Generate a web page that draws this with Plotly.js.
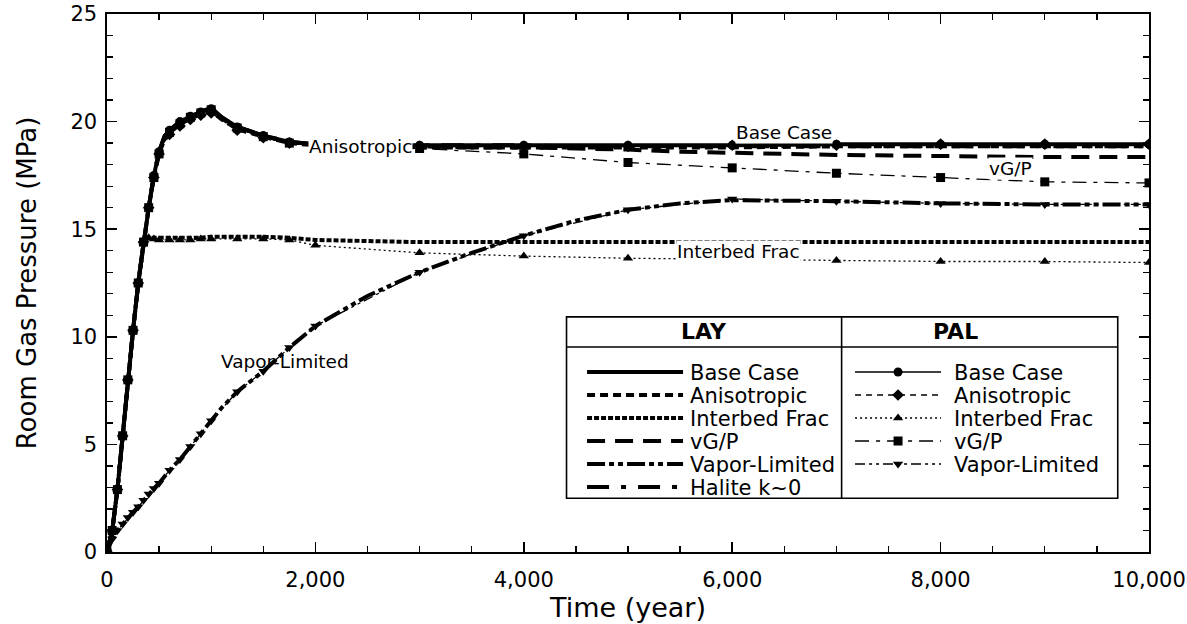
<!DOCTYPE html>
<html>
<head>
<meta charset="utf-8">
<script src="https://cdn.plot.ly/plotly-3.0.1.min.js"></script>
<style>
html,body{margin:0;padding:0;background:#fff;}
#chart{width:1187px;height:624px;}
</style>
</head>
<body>
<div id="chart"></div>
<script>
// ---- data (time in years, pressure in MPa) ----
const yearsLAY = [0,50,100,150,200,250,300,350,400,450,500,550,600,700,800,900,1000,1100,1250,1500,1750,2000,2500,3000,3500,4000,4500,5000,5500,6000,7000,8000,9000,10000];
const layBase     = [0,1.0,2.9,5.4,8.0,10.3,12.5,14.4,16.0,17.5,18.6,19.3,19.6,20.0,20.25,20.45,20.65,20.2,19.75,19.35,19.05,18.95,18.9,18.9,18.9,18.9,18.9,18.9,18.9,18.9,18.95,18.95,18.95,18.95];
const layAniso    = [0,1.0,2.9,5.4,8.0,10.3,12.5,14.4,16.0,17.4,18.5,19.2,19.5,19.9,20.15,20.35,20.5,20.1,19.65,19.3,19.0,18.9,18.85,18.8,18.8,18.8,18.8,18.8,18.8,18.8,18.85,18.85,18.85,18.85];
const layInterbed = [0,1.0,2.9,5.4,8.0,10.3,12.5,14.4,14.6,14.6,14.6,14.6,14.6,14.6,14.6,14.6,14.65,14.65,14.65,14.65,14.6,14.5,14.45,14.4,14.4,14.4,14.4,14.4,14.4,14.4,14.4,14.4,14.4,14.4];
const layVGP      = [0,1.0,2.9,5.4,8.0,10.3,12.5,14.4,16.0,17.5,18.6,19.3,19.6,20.0,20.25,20.45,20.6,20.2,19.75,19.35,19.05,18.95,18.9,18.85,18.8,18.8,18.75,18.7,18.6,18.55,18.45,18.4,18.35,18.35];
const layVapor    = [0,0.6,1.0,1.3,1.6,1.85,2.1,2.4,2.7,2.95,3.2,3.5,3.8,4.3,4.9,5.5,6.1,6.7,7.45,8.4,9.5,10.5,11.9,13.0,13.9,14.7,15.4,15.9,16.2,16.35,16.3,16.2,16.15,16.15];
const layHalite   = [0,1.0,2.9,5.4,8.0,10.3,12.5,14.4,16.0,17.5,18.6,19.3,19.6,20.0,20.25,20.45,20.6,20.2,19.75,19.35,19.05,18.95,18.9,18.9,18.9,18.9,18.85,18.85,18.85,18.85,18.85,18.85,18.85,18.85];

const yearsPAL = [0,50,100,150,200,250,300,350,400,450,500,600,700,800,900,1000,1250,1500,1750,2000,3000,4000,5000,6000,7000,8000,9000,10000];
const palBase     = [0,1.0,2.9,5.4,8.0,10.3,12.5,14.4,16.0,17.5,18.6,19.6,20.0,20.25,20.45,20.6,19.75,19.35,19.05,18.95,18.9,18.9,18.9,18.9,18.95,18.95,18.95,18.95];
const palAniso    = [0,1.0,2.9,5.4,8.0,10.3,12.5,14.4,16.0,17.4,18.5,19.4,19.8,20.1,20.3,20.4,19.6,19.25,19.0,18.9,18.85,18.85,18.85,18.9,18.9,18.95,18.95,18.95];
const palInterbed = [0,1.0,2.9,5.4,8.0,10.3,12.5,14.4,14.6,14.55,14.5,14.5,14.5,14.5,14.55,14.55,14.55,14.55,14.5,14.25,13.9,13.75,13.65,13.6,13.55,13.5,13.5,13.45];
const palVGP      = [0,1.0,2.9,5.4,8.0,10.3,12.5,14.4,16.0,17.4,18.5,19.5,19.9,20.2,20.4,20.55,19.7,19.3,19.0,18.9,18.75,18.5,18.1,17.85,17.6,17.4,17.2,17.15];
const palVapor    = [0,0.6,1.0,1.3,1.6,1.85,2.1,2.4,2.7,2.95,3.2,3.8,4.3,4.9,5.5,6.1,7.45,8.4,9.5,10.5,13.0,14.7,15.9,16.4,16.3,16.2,16.15,16.15];

const caseNames = ['Base Case','Anisotropic','Interbed Frac','vG/P','Vapor-Limited','Halite k~0'];
const xTickVals = [0,2000,4000,6000,8000,10000];
const yTickVals = [0,5,10,15,20,25];

// ---- chart ----
const FONT = '"DejaVu Sans", Arial, sans-serif';
const layStyles = [
  {y: layBase, dash: 'solid'},
  {y: layAniso, dash: '8px,5px'},
  {y: layInterbed, dash: '5px,2px'},
  {y: layVGP, dash: '18px,10px'},
  {y: layVapor, dash: '18px,4px,5px,4px,5px,4px'},
  {y: layHalite, dash: '22px,12px,5px,12px'}
];
const palStyles = [
  {y: palBase, dash: 'solid', sym: 'circle'},
  {y: palAniso, dash: '6px,5px', sym: 'diamond'},
  {y: palInterbed, dash: '2px,3px', sym: 'triangle-up'},
  {y: palVGP, dash: '14px,7px,4px,7px', sym: 'square'},
  {y: palVapor, dash: '10px,4px,3px,4px,3px,4px', sym: 'triangle-down'}
];

const traces = [];
layStyles.forEach((s, i) => {
  traces.push({
    x: yearsLAY, y: s.y, type: 'scatter', mode: 'lines', name: caseNames[i],
    legend: 'legend', line: {color: '#000', width: 4, dash: s.dash}
  });
});
palStyles.forEach((s, i) => {
  traces.push({
    x: yearsPAL, y: s.y, type: 'scatter', mode: 'lines+markers', name: caseNames[i],
    legend: 'legend2', line: {color: '#000', width: 1.3, dash: s.dash},
    marker: {symbol: s.sym, size: 9, color: '#000'}
  });
});

// legend frame in paper coordinates (plot area: 1042 x 538 px)
const bx0 = 0.441, bx1 = 0.970, bdiv = 0.705, by0 = 0.100, by1 = 0.437, bhead = 0.381;

const layout = {
  width: 1187, height: 624,
  margin: {l: 107, r: 38, t: 14, b: 72},
  paper_bgcolor: '#fff', plot_bgcolor: '#fff',
  font: {family: FONT, color: '#000', size: 20},
  xaxis: {
    range: [0, 10000], tickvals: xTickVals, tickformat: ',d',
    showline: true, linecolor: '#000', linewidth: 1.6, mirror: 'allticks',
    ticks: 'inside', ticklen: 10, tickwidth: 1.5, tickcolor: '#000',
    minor: {dtick: 500, ticks: 'inside', ticklen: 6, tickwidth: 1.3, tickcolor: '#000', showgrid: false},
    showgrid: false, zeroline: false, ticklabelstandoff: 8,
    tickfont: {size: 21, family: FONT},
    title: {text: 'Time (year)', font: {size: 27, family: FONT}, standoff: 2}
  },
  yaxis: {
    range: [0, 25], tickvals: yTickVals,
    showline: true, linecolor: '#000', linewidth: 1.6, mirror: 'allticks',
    ticks: 'inside', ticklen: 10, tickwidth: 1.5, tickcolor: '#000',
    minor: {dtick: 1, ticks: 'inside', ticklen: 6, tickwidth: 1.3, tickcolor: '#000', showgrid: false},
    showgrid: false, zeroline: false, ticklabelstandoff: 4,
    tickfont: {size: 21, family: FONT},
    title: {text: 'Room Gas Pressure (MPa)', font: {size: 26, family: FONT}, standoff: 26}
  },
  showlegend: true,
  legend: {
    x: 0.4559, y: 0.372, xanchor: 'left', yanchor: 'top',
    bgcolor: 'rgba(0,0,0,0)', borderwidth: 0, itemwidth: 98,
    font: {size: 21, family: FONT}, tracegroupgap: 0, itemclick: false
  },
  legend2: {
    x: 0.7131, y: 0.372, xanchor: 'left', yanchor: 'top',
    bgcolor: 'rgba(0,0,0,0)', borderwidth: 0, itemwidth: 94,
    font: {size: 21, family: FONT}, tracegroupgap: 0, itemclick: false
  },
  shapes: [
    {type: 'rect', xref: 'paper', yref: 'paper', x0: bx0, x1: bx1, y0: by0, y1: by1,
     line: {color: '#000', width: 1.6}, fillcolor: '#fff', layer: 'below'},
    {type: 'line', xref: 'paper', yref: 'paper', x0: bx0, x1: bx1, y0: bhead, y1: bhead,
     line: {color: '#000', width: 1.6}},
    {type: 'line', xref: 'paper', yref: 'paper', x0: bdiv, x1: bdiv, y0: by0, y1: by1,
     line: {color: '#000', width: 1.6}}
  ],
  annotations: [
    {xref: 'paper', yref: 'paper', x: (bx0 + bdiv) / 2, y: (by1 + bhead) / 2, text: '<b>LAY</b>',
     showarrow: false, font: {size: 22, family: FONT}},
    {xref: 'paper', yref: 'paper', x: (bdiv + bx1) / 2, y: (by1 + bhead) / 2, text: '<b>PAL</b>',
     showarrow: false, font: {size: 22, family: FONT}},
    {x: 2428, y: 18.85, text: 'Anisotropic', showarrow: false, bgcolor: '#fff', borderpad: 0, font: {size: 18.5, family: FONT}},
    {x: 6497, y: 19.5, text: 'Base Case', showarrow: false, bgcolor: '#fff', borderpad: 0, font: {size: 18.5, family: FONT}},
    {x: 8666, y: 17.8, text: 'vG/P', showarrow: false, bgcolor: '#fff', borderpad: 0, font: {size: 18.5, family: FONT}},
    {x: 6056, y: 13.98, text: 'Interbed Frac', showarrow: false, bgcolor: '#fff', borderpad: 0, font: {size: 18.5, family: FONT}},
    {x: 1708, y: 8.83, text: 'Vapor-Limited', showarrow: false, font: {size: 18.5, family: FONT}}
  ]
};

function tidyLegends() {
  const groups = Array.from(document.querySelectorAll('g.infolayer > g')).filter(function (g) {
    return /^legend\d*$/.test((g.getAttribute('class') || '').trim().split(/\s+/)[0]);
  });
  groups.forEach(function (lg) {
    const isPal = /legend2/.test(lg.getAttribute('class'));
    const len = isPal ? 86 : 96;
    lg.querySelectorAll('path.js-line').forEach(function (p) { p.setAttribute('d', 'M5,0h' + len); });
    lg.querySelectorAll('g.legendpoints path.scatterpts').forEach(function (p) {
      p.setAttribute('transform', 'translate(' + (5 + len / 2) + ',0)');
    });
    // tighter row spacing, as in the original key
    const rows = lg.querySelectorAll('g.traces');
    let y0 = null;
    rows.forEach(function (r, i) {
      const m = /translate\(\s*([-\d.]+)[ ,]+([-\d.]+)\s*\)/.exec(r.getAttribute('transform') || '');
      if (!m) return;
      if (y0 === null) y0 = parseFloat(m[2]);
      r.setAttribute('transform', 'translate(' + m[1] + ',' + (y0 + i * 23) + ')');
    });
  });
}

Plotly.newPlot('chart', traces, layout, {displayModeBar: false, staticPlot: true}).then(tidyLegends);
</script>
</body>
</html>
